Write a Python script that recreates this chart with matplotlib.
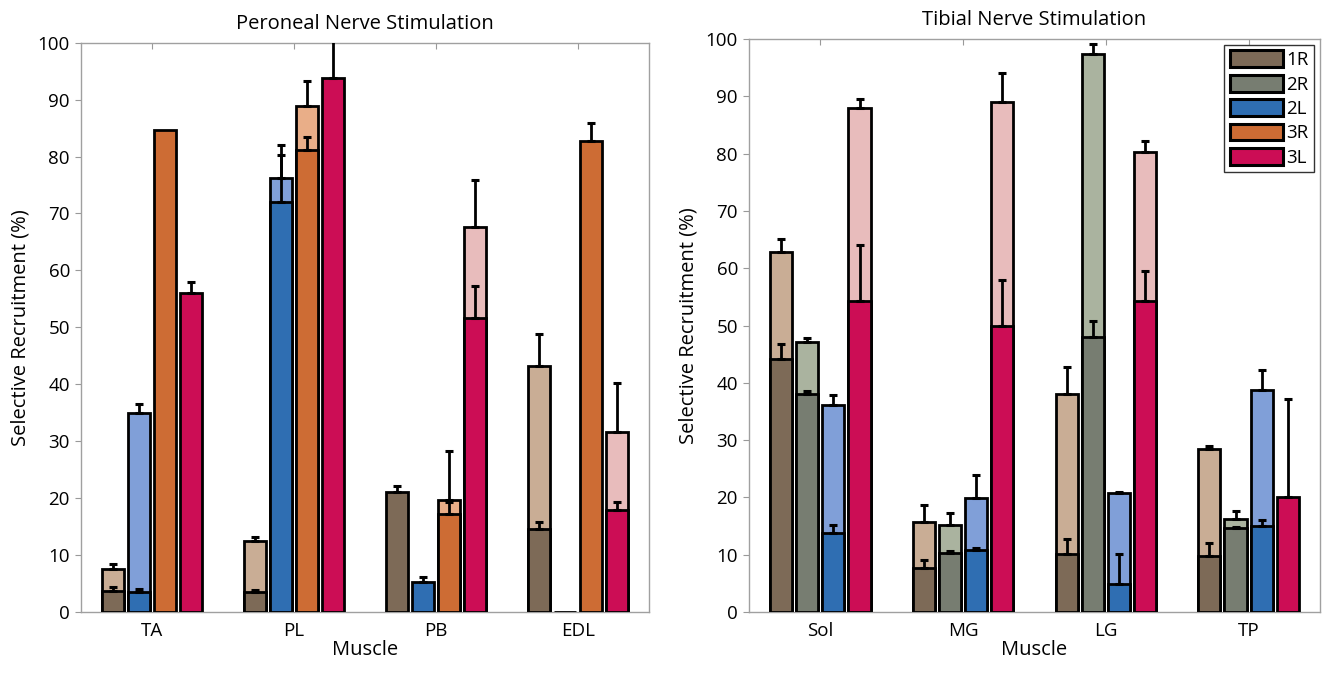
import numpy as np
import matplotlib.pyplot as plt
from matplotlib.patches import Patch

plt.rcParams['font.family'] = ['Open Sans', 'DejaVu Sans']

nan = np.nan

# cores por estimulacao (escura = seletiva, clara = total)
series_names = ['1R', '2R', '2L', '3R', '3L']
dark_colors = {'1R': '#7D6A57', '2R': '#777D71', '2L': '#2F6EB2',
               '3R': '#CD6C34', '3L': '#CC0D55'}
light_colors = {'1R': '#C9AD95', '2R': '#AAB39F', '2L': '#809FD8',
                '3R': '#E9AE88', '3L': '#E8BCBC'}

# Peroneal
per_groups = ['TA', 'PL', 'PB', 'EDL']
per_series = ['1R', '2L', '3R', '3L']
per_sel = [[3.7, 3.5, 21.1, 14.6],
           [3.6, 72.1, 5.2, 0.0],
           [84.6, 81.2, 17.3, 82.8],
           [56.0, 93.8, 51.7, 17.9]]
per_sel_err = [[0.7, 0.3, 1.0, 1.2],
               [0.5, 8.2, 1.0, nan],
               [nan, 2.2, 2.0, 3.1],
               [2.0, 9.0, 5.5, 1.4]]
per_tot = [[7.6, 12.5, nan, 43.2],
           [34.9, 76.2, nan, nan],
           [nan, 88.9, 19.7, nan],
           [nan, nan, 67.6, 31.6]]
per_tot_err = [[0.8, 0.7, nan, 5.6],
               [1.6, 5.9, nan, nan],
               [nan, 4.4, 8.5, nan],
               [nan, nan, 8.3, 8.7]]

# Tibial
tib_groups = ['Sol', 'MG', 'LG', 'TP']
tib_series = ['1R', '2R', '2L', '3L']
tib_sel = [[44.2, 7.7, 10.1, 9.8],
           [38.0, 10.3, 48.0, 14.6],
           [13.8, 10.9, 4.9, 15.0],
           [54.3, 49.9, 54.2, 20.1]]
tib_sel_err = [[2.6, 1.4, 2.7, 2.3],
               [0.6, 0.3, 2.8, 0.3],
               [1.4, 0.3, 5.3, 1.1],
               [9.7, 8.0, 5.4, 17.0]]
tib_tot = [[62.8, 15.7, 38.0, 28.4],
           [47.1, 15.2, 97.4, 16.2],
           [36.2, 19.9, 20.7, 38.8],
           [88.0, 89.0, 80.3, nan]]
tib_tot_err = [[2.3, 3.0, 4.8, 0.6],
               [0.8, 2.1, 1.8, 1.4],
               [1.6, 4.1, 0.3, 3.4],
               [1.5, 5.0, 1.9, nan]]

BAR_W = 0.155
STEP = 0.183
EDGE_LW = 2.0
ERR_KW = dict(fmt='none', ecolor='black', elinewidth=2.0, capsize=3.2,
              capthick=2.2, zorder=4)


def draw_panel(ax, groups, series, sel, sel_err, tot, tot_err, title):
    x = np.arange(1, len(groups) + 1)
    n = len(series)
    for i, name in enumerate(series):
        pos = x + (i - (n - 1) / 2) * STEP
        s = np.array(sel[i], dtype=float)
        se = np.array(sel_err[i], dtype=float)
        t = np.array(tot[i], dtype=float)
        te = np.array(tot_err[i], dtype=float)
        # total (claro) por baixo
        m = ~np.isnan(t)
        if m.any():
            ax.bar(pos[m], t[m], BAR_W, color=light_colors[name],
                   edgecolor='black', linewidth=EDGE_LW, zorder=2)
        ax.bar(pos, s, BAR_W, color=dark_colors[name],
               edgecolor='black', linewidth=EDGE_LW, zorder=3)
        m = ~np.isnan(te)
        if m.any():
            ax.errorbar(pos[m], t[m], yerr=[np.zeros(m.sum()), te[m]], **ERR_KW)
        m = ~np.isnan(se)
        if m.any():
            ax.errorbar(pos[m], s[m], yerr=[np.zeros(m.sum()), se[m]], **ERR_KW)

    ax.set_xlim(0.5, 4.5)
    ax.set_ylim(0, 100)
    ax.set_yticks(np.arange(0, 101, 10))
    ax.set_xticks(x)
    ax.set_xticklabels(groups)
    ax.tick_params(axis='x', bottom=False, top=True, direction='in',
                   length=4, width=0.8, color='#999999', labelsize=13.5, pad=7)
    ax.tick_params(axis='y', left=True, right=False, direction='out',
                   length=4, width=0.8, color='#999999', labelsize=13.5, pad=4)
    for sp in ax.spines.values():
        sp.set_color('#A0A0A0')
        sp.set_linewidth(1.0)
    ax.set_xlabel('Muscle', fontsize=14.5, labelpad=0)
    ax.set_ylabel('Selective Recruitment (%)', fontsize=14.5, labelpad=5)
    ax.set_title(title, fontsize=14.5, pad=10)


fig = plt.figure(figsize=(13.33, 6.73), dpi=100)
ax1 = fig.add_axes([0.0608, 0.0906, 0.4261, 0.846])
ax2 = fig.add_axes([0.5619, 0.0906, 0.4283, 0.8514])

draw_panel(ax1, per_groups, per_series, per_sel, per_sel_err, per_tot,
           per_tot_err, 'Peroneal Nerve Stimulation')
draw_panel(ax2, tib_groups, tib_series, tib_sel, tib_sel_err, tib_tot,
           tib_tot_err, 'Tibial Nerve Stimulation')

handles = [Patch(facecolor=dark_colors[s], edgecolor='black', linewidth=2.2,
                 label=s) for s in series_names]
leg = ax2.legend(handles=handles, loc='upper right', fontsize=13.5,
                 handlelength=2.8, handleheight=1.0, handletextpad=0.2,
                 labelspacing=0.3, borderpad=0.3, borderaxespad=0.3,
                 fancybox=False, framealpha=1)
leg.get_frame().set_edgecolor('#333333')
leg.get_frame().set_linewidth(1.0)

fig.savefig('out.png', dpi=100)
